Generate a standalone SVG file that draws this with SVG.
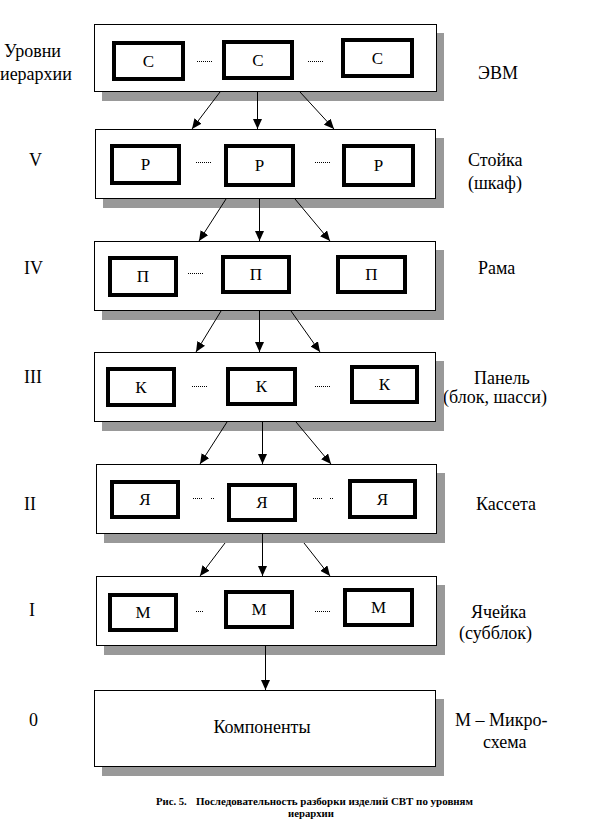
<svg xmlns="http://www.w3.org/2000/svg" width="614" height="821" viewBox="0 0 614 821">
<style>
.bg{fill:#fff}
.shadow{fill:#999}
.outer{fill:#fff;stroke:#000;stroke-width:1}
.inner{fill:#fff;stroke:#000;stroke-width:4}
.t{font-family:"Liberation Serif","Times New Roman",serif;font-size:18px;fill:#000}
.in{font-family:"Liberation Serif","Times New Roman",serif;font-size:17px;fill:#000;text-anchor:middle}
.dots{stroke:#000;stroke-width:1;stroke-dasharray:1 1;fill:none}
.conn line{stroke:#000;stroke-width:1;marker-end:url(#ah)}
.cap{font-family:"Liberation Serif","Times New Roman",serif;font-size:10.7px;font-weight:bold;fill:#000}
</style>
<defs>
<marker id="ah" markerUnits="userSpaceOnUse" markerWidth="10" markerHeight="9" refX="10" refY="4.5" orient="auto">
<path d="M0,0 L10,4.5 L0,9 z" fill="#000"/>
</marker>
</defs>
<rect class="bg" x="0" y="0" width="614" height="821"/>

<g id="level-labels">
<text class="t" x="4" y="57">Уровни</text>
<text class="t" x="0" y="80">иерархии</text>
<text class="t" x="29" y="166">V</text>
<text class="t" x="24" y="274">IV</text>
<text class="t" x="24" y="383">III</text>
<text class="t" x="24" y="510">II</text>
<text class="t" x="29" y="616">I</text>
<text class="t" x="29" y="726">0</text>
</g>

<g id="name-labels">
<text class="t" x="478" y="79">ЭВМ</text>
<text class="t" x="468" y="166">Стойка</text>
<text class="t" x="468" y="189">(шкаф)</text>
<text class="t" x="478" y="274">Рама</text>
<text class="t" x="474" y="384">Панель</text>
<text class="t" x="443" y="403">(блок, шасси)</text>
<text class="t" x="476" y="510">Кассета</text>
<text class="t" x="471" y="618">Ячейка</text>
<text class="t" x="459" y="639">(субблок)</text>
<text class="t" x="455" y="726">М – Микро-</text>
<text class="t" x="483" y="748">схема</text>
</g>

<g id="node-evm">
<rect class="shadow" x="102" y="33" width="342" height="68"/>
<rect class="outer" x="94.5" y="24.5" width="342" height="67"/>
<rect class="inner" x="114" y="43" width="69" height="36"/>
<rect class="inner" x="224" y="42" width="68" height="36"/>
<rect class="inner" x="343" y="40" width="69" height="36"/>
<text class="in" x="148.5" y="67">С</text>
<text class="in" x="258" y="66">С</text>
<text class="in" x="377.5" y="64">С</text>
<line class="dots" x1="197" y1="61.5" x2="212" y2="61.5"/>
<line class="dots" x1="308" y1="61.5" x2="323" y2="61.5"/>
</g>

<g id="node-stoika">
<rect class="shadow" x="103" y="138" width="341" height="70"/>
<rect class="outer" x="95.5" y="129.5" width="340" height="69"/>
<rect class="inner" x="112" y="146" width="67" height="37"/>
<rect class="inner" x="226" y="146" width="67" height="39"/>
<rect class="inner" x="344" y="146" width="69" height="39"/>
<text class="in" x="145.5" y="170">Р</text>
<text class="in" x="259.5" y="171">Р</text>
<text class="in" x="378.5" y="171">Р</text>
<line class="dots" x1="196" y1="162.5" x2="211" y2="162.5"/>
<line class="dots" x1="315" y1="162.5" x2="330" y2="162.5"/>
</g>

<g id="node-rama">
<rect class="shadow" x="102" y="250" width="342" height="70"/>
<rect class="outer" x="94.5" y="241.5" width="341" height="69"/>
<rect class="inner" x="110" y="258" width="66" height="37"/>
<rect class="inner" x="223" y="257" width="66" height="35"/>
<rect class="inner" x="338" y="257" width="67" height="35"/>
<text class="in" x="143" y="282">П</text>
<text class="in" x="256" y="280">П</text>
<text class="in" x="371.5" y="280">П</text>
<line class="dots" x1="188" y1="273.5" x2="204" y2="273.5"/>
</g>

<g id="node-panel">
<rect class="shadow" x="102" y="361" width="342" height="70"/>
<rect class="outer" x="94.5" y="352.5" width="341" height="69"/>
<rect class="inner" x="108" y="369" width="66" height="36"/>
<rect class="inner" x="228" y="369" width="67" height="35"/>
<rect class="inner" x="352" y="367" width="65" height="35"/>
<text class="in" x="141" y="393">К</text>
<text class="in" x="261.5" y="392">К</text>
<text class="in" x="384.5" y="390">К</text>
<line class="dots" x1="192" y1="386.5" x2="207" y2="386.5"/>
<line class="dots" x1="315" y1="386.5" x2="331" y2="386.5"/>
</g>

<g id="node-kasseta">
<rect class="shadow" x="104" y="473" width="341" height="70"/>
<rect class="outer" x="96.5" y="464.5" width="340" height="69"/>
<rect class="inner" x="112" y="482" width="66" height="35"/>
<rect class="inner" x="229" y="485" width="66" height="35"/>
<rect class="inner" x="350" y="481" width="65" height="36"/>
<text class="in" x="145" y="505">Я</text>
<text class="in" x="262" y="508">Я</text>
<text class="in" x="382.5" y="505">Я</text>
<line class="dots" x1="193" y1="498.5" x2="203" y2="498.5"/>
<line class="dots" x1="211" y1="498.5" x2="214" y2="498.5"/>
<line class="dots" x1="313" y1="498.5" x2="323" y2="498.5"/>
<line class="dots" x1="330" y1="498.5" x2="333" y2="498.5"/>
</g>

<g id="node-yacheika">
<rect class="shadow" x="104" y="585" width="341" height="70"/>
<rect class="outer" x="96.5" y="576.5" width="340" height="69"/>
<rect class="inner" x="110" y="595" width="66" height="35"/>
<rect class="inner" x="226" y="592" width="66" height="35"/>
<rect class="inner" x="345" y="590" width="67" height="35"/>
<text class="in" x="143" y="618">М</text>
<text class="in" x="259" y="615">М</text>
<text class="in" x="378.5" y="613">М</text>
<line class="dots" x1="196" y1="611.5" x2="204" y2="611.5"/>
<line class="dots" x1="315" y1="611.5" x2="331" y2="611.5"/>
</g>

<g id="node-komponenty">
<rect class="shadow" x="102" y="699" width="342" height="77"/>
<rect class="outer" x="94.5" y="690.5" width="341" height="76"/>
<text class="t" x="262" y="733" text-anchor="middle">Компоненты</text>
</g>

<g id="connectors" class="conn">
<line x1="220" y1="92" x2="192" y2="129"/>
<line x1="257.5" y1="92" x2="257.5" y2="129"/>
<line x1="300" y1="92" x2="334" y2="129"/>
<line x1="226" y1="199" x2="199" y2="241"/>
<line x1="259.5" y1="199" x2="259.5" y2="241"/>
<line x1="295" y1="199" x2="330" y2="241"/>
<line x1="221" y1="311" x2="196" y2="352"/>
<line x1="259.5" y1="311" x2="259.5" y2="352"/>
<line x1="291" y1="311" x2="320" y2="352"/>
<line x1="227" y1="422" x2="200" y2="464"/>
<line x1="262.5" y1="422" x2="262.5" y2="464"/>
<line x1="296" y1="422" x2="331" y2="464"/>
<line x1="225" y1="543" x2="200" y2="576"/>
<line x1="262.5" y1="534" x2="262.5" y2="576"/>
<line x1="304" y1="543" x2="330" y2="576"/>
<line x1="265.5" y1="646" x2="265.5" y2="690"/>
</g>

<g id="caption">
<text class="cap" x="156" y="805">Рис. 5.</text>
<text class="cap" x="196" y="805" textLength="277" lengthAdjust="spacingAndGlyphs">Последовательность разборки изделий СВТ по уровням</text>
<text class="cap" x="311" y="817" text-anchor="middle">иерархии</text>
</g>
</svg>
